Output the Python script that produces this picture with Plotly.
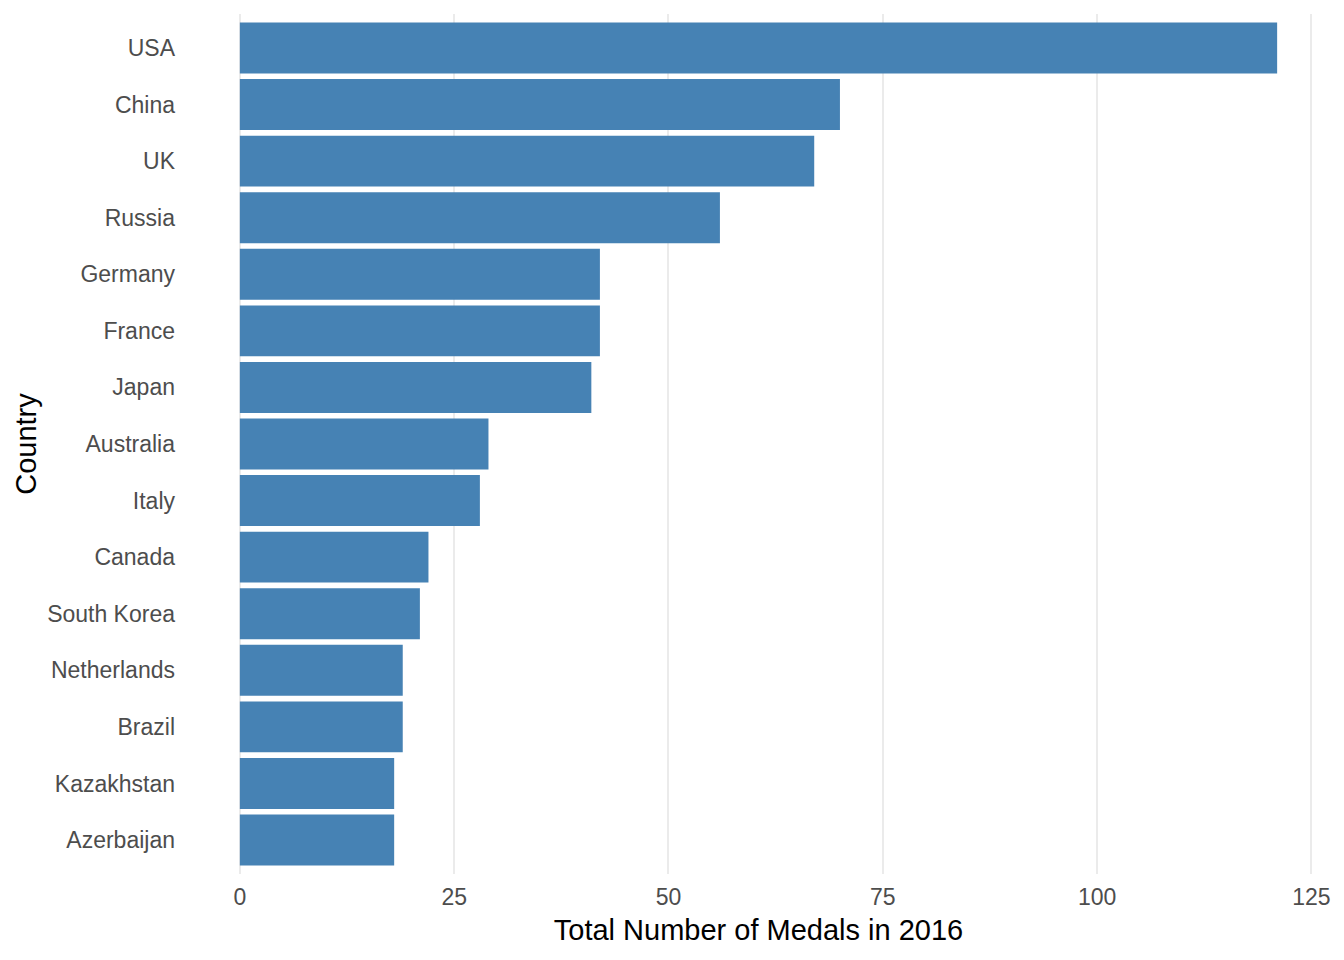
import plotly.graph_objects as go

countries = ["USA", "China", "UK", "Russia", "Germany", "France", "Japan", "Australia",
             "Italy", "Canada", "South Korea", "Netherlands", "Brazil", "Kazakhstan", "Azerbaijan"]
medals = [121, 70, 67, 56, 42, 42, 41, 29, 28, 22, 21, 19, 19, 18, 18]
x_ticks = [0, 25, 50, 75, 100, 125]

FONT = "Arial, Liberation Sans, sans-serif"

fig = go.Figure(go.Bar(
    x=medals, y=countries, orientation="h",
    marker=dict(color="#4682B4", line=dict(width=0)),
    width=0.9,
))

fig.update_layout(
    width=1344, height=960,
    margin=dict(l=180, r=23, t=6, b=94),
    paper_bgcolor="white", plot_bgcolor="white",
    showlegend=False,
    font=dict(family=FONT),
    xaxis=dict(
        range=[-6.05, 127.05],
        tickvals=x_ticks, ticktext=[str(v) for v in x_ticks],
        showgrid=True, gridcolor="#EBEBEB", gridwidth=1.5,
        zeroline=False, showline=False, ticks="",
        tickfont=dict(size=23, color="#4D4D4D", family=FONT),
        ticklabelstandoff=7,
        title=dict(text="Total Number of Medals in 2016",
                   font=dict(size=29, color="black", family=FONT), standoff=10),
    ),
    yaxis=dict(
        categoryorder="array", categoryarray=countries,
        range=[14.6, -0.6],
        showgrid=False, zeroline=False, showline=False, ticks="",
        tickfont=dict(size=23, color="#4D4D4D", family=FONT),
        ticklabelstandoff=12,
        title=dict(text="Country", font=dict(size=29, color="black", family=FONT), standoff=1),
    ),
)

fig.write_html("out.html")
